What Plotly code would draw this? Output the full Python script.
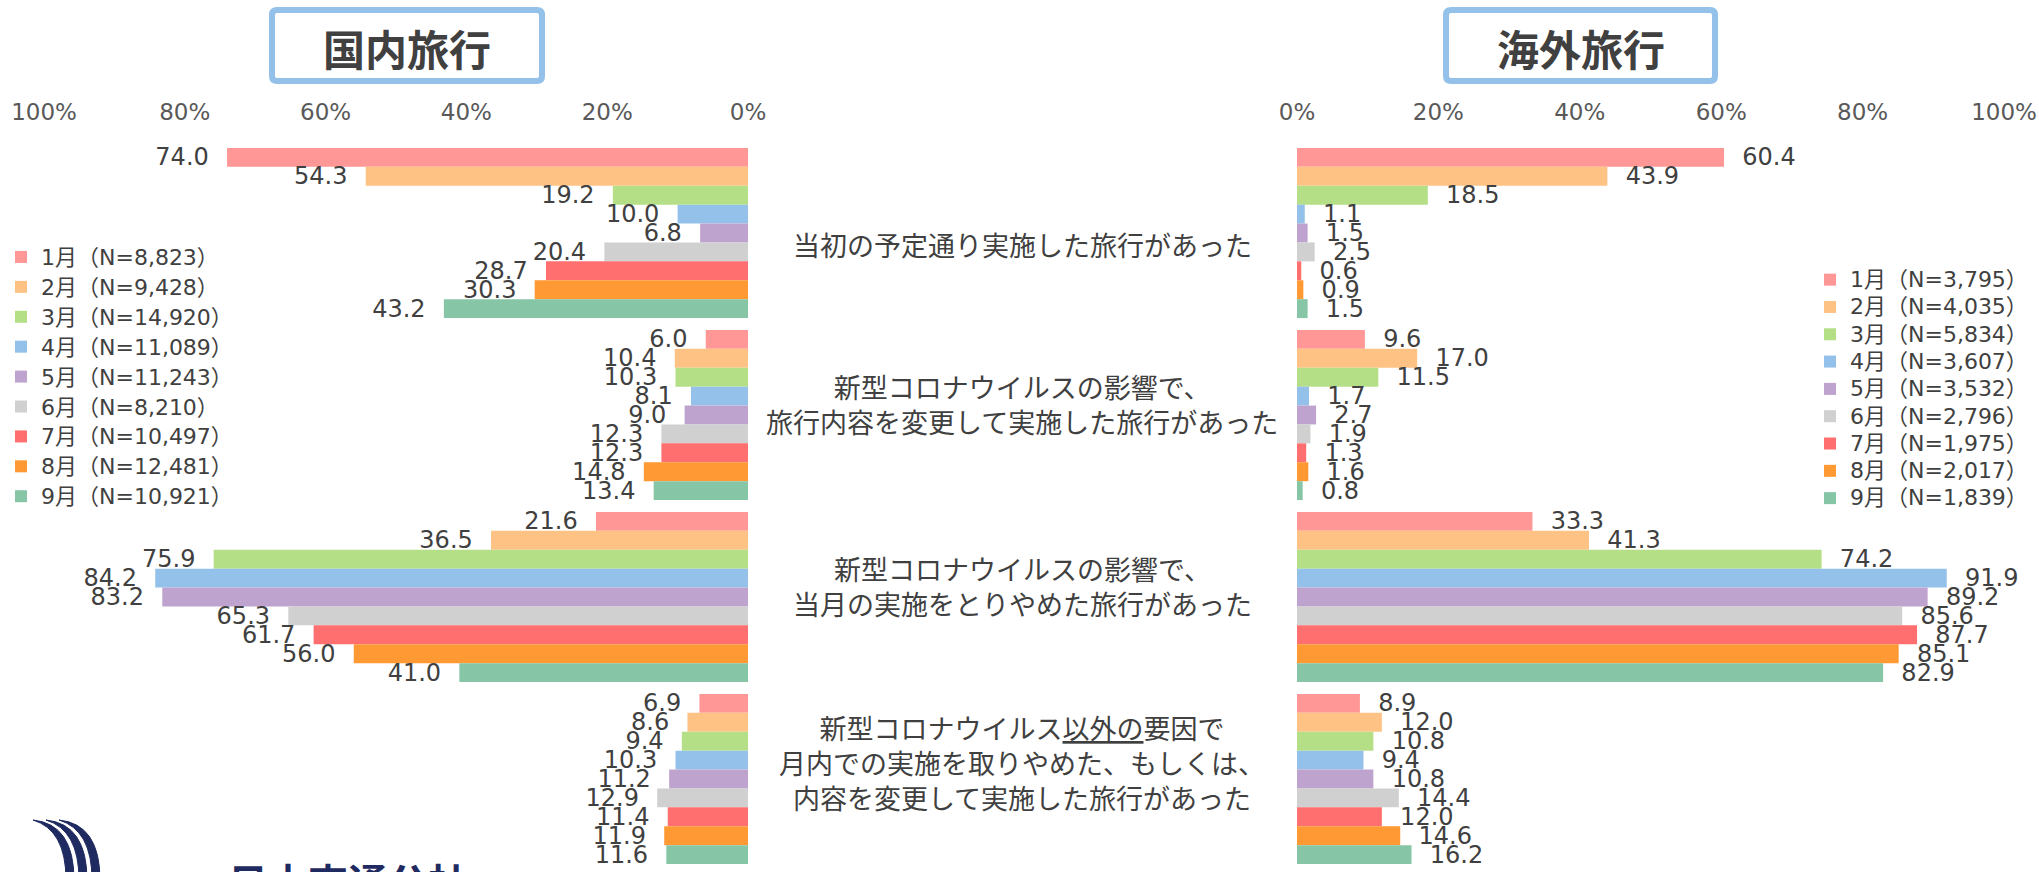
import plotly.graph_objects as go

W, H = 2039, 872

# ---------------- data ----------------
months = ["1月", "2月", "3月", "4月", "5月", "6月", "7月", "8月", "9月"]
dom_n = ["8,823", "9,428", "14,920", "11,089", "11,243", "8,210", "10,497", "12,481", "10,921"]
ovs_n = ["3,795", "4,035", "5,834", "3,607", "3,532", "2,796", "1,975", "2,017", "1,839"]

categories = [
    "当初の予定通り実施した旅行があった",
    "新型コロナウイルスの影響で、<br>旅行内容を変更して実施した旅行があった",
    "新型コロナウイルスの影響で、<br>当月の実施をとりやめた旅行があった",
    "新型コロナウイルス<u>以外の</u>要因で<br>月内での実施を取りやめた、もしくは、<br>内容を変更して実施した旅行があった",
]

# values by month (Jan..Sep) for each category
dom_planned = [74.0, 54.3, 19.2, 10.0, 6.8, 20.4, 28.7, 30.3, 43.2]
dom_changed = [6.0, 10.4, 10.3, 8.1, 9.0, 12.3, 12.3, 14.8, 13.4]
dom_cancelled = [21.6, 36.5, 75.9, 84.2, 83.2, 65.3, 61.7, 56.0, 41.0]
dom_other = [6.9, 8.6, 9.4, 10.3, 11.2, 12.9, 11.4, 11.9, 11.6]

ovs_planned = [60.4, 43.9, 18.5, 1.1, 1.5, 2.5, 0.6, 0.9, 1.5]
ovs_changed = [9.6, 17.0, 11.5, 1.7, 2.7, 1.9, 1.3, 1.6, 0.8]
ovs_cancelled = [33.3, 41.3, 74.2, 91.9, 89.2, 85.6, 87.7, 85.1, 82.9]
ovs_other = [8.9, 12.0, 10.8, 9.4, 10.8, 14.4, 12.0, 14.6, 16.2]

tick_vals = [0, 20, 40, 60, 80, 100]
tick_text = ["0%", "20%", "40%", "60%", "80%", "100%"]

titles = ["国内旅行", "海外旅行"]
logo_text = "日本交通公社"

# ---------------- style ----------------
colors = ["#FF9797", "#FFC285", "#B5DF86", "#93C1EA", "#BFA3CF",
          "#D0D0D0", "#FF6F6F", "#FF9933", "#86C6A6"]
TXT = "#404040"
LAT = "DejaVu Sans, Noto Sans CJK JP, sans-serif"
CJK = "Noto Sans CJK JP, sans-serif"
NB = "\u00a0"


def px(x):
    return x / W


def py(y):
    return 1 - y / H


def legend_name(m, n):
    return f'<span style="font-size:22px">{m}（N={n}）</span>'


dom_series = [dom_planned, dom_changed, dom_cancelled, dom_other]
ovs_series = [ovs_planned, ovs_changed, ovs_cancelled, ovs_other]

fig = go.Figure()

for i, m in enumerate(months):
    vals = [s[i] for s in dom_series]
    fig.add_trace(go.Bar(
        y=categories, x=vals, orientation="h",
        name=legend_name(m, dom_n[i]),
        marker=dict(color=colors[i], line=dict(width=0)),
        text=[f"{v:.1f}{NB}{NB}" for v in vals],
        textposition="outside", textangle=0, constraintext="none",
        cliponaxis=False,
        textfont=dict(family=LAT, size=24, color=TXT),
        xaxis="x", yaxis="y", legend="legend", hoverinfo="skip",
    ))

for i, m in enumerate(months):
    vals = [s[i] for s in ovs_series]
    fig.add_trace(go.Bar(
        y=categories, x=vals, orientation="h",
        name=legend_name(m, ovs_n[i]),
        marker=dict(color=colors[i], line=dict(width=0)),
        text=[f"{NB}{NB}{v:.1f}" for v in vals],
        textposition="outside", textangle=0, constraintext="none",
        cliponaxis=False,
        textfont=dict(family=LAT, size=24, color=TXT),
        xaxis="x2", yaxis="y", legend="legend2", hoverinfo="skip",
    ))

axis_common = dict(
    side="top", tickvals=tick_vals, ticktext=tick_text,
    showgrid=False, zeroline=False, showline=False,
    ticks="outside", ticklen=12, tickcolor="rgba(0,0,0,0)",
    tickfont=dict(family=LAT, size=23, color="#595959"),
    anchor="y", fixedrange=True, automargin=False,
)

fig.update_layout(
    width=W, height=H,
    margin=dict(l=0, r=0, t=0, b=0, autoexpand=False),
    paper_bgcolor="white", plot_bgcolor="white",
    barmode="group", bargap=0.065, bargroupgap=0,
    xaxis=dict(domain=[px(44), px(748)], range=[100, 0], **axis_common),
    xaxis2=dict(domain=[px(1297), px(2004)], range=[0, 100], **axis_common),
    yaxis=dict(domain=[py(870), py(142)], type="category",
               range=[3.5, -0.5], showticklabels=False, showgrid=False,
               zeroline=False, showline=False, anchor="x", fixedrange=True,
               automargin=False),
    showlegend=True,
    legend=dict(x=px(1), y=py(237), xanchor="left", yanchor="top",
                bgcolor="rgba(0,0,0,0)", traceorder="normal",
                font=dict(family=LAT, size=20.7, color=TXT), itemwidth=30),
    legend2=dict(x=px(1810), y=py(261), xanchor="left", yanchor="top",
                 bgcolor="rgba(0,0,0,0)", traceorder="normal",
                 font=dict(family=LAT, size=18.7, color=TXT), itemwidth=30),
)

# category labels in the centre
shifts = [-12, 11, 11, 17]
for cat, s in zip(categories, shifts):
    fig.add_annotation(
        x=px(1022), xref="paper", y=cat, yref="y", yshift=s,
        text=cat, showarrow=False, align="center",
        xanchor="center", yanchor="middle",
        font=dict(family=CJK, size=27, color=TXT),
    )


def rrect(x0, y0, x1, y1, r):
    return (f"M {px(x0 + r)},{py(y0)} L {px(x1 - r)},{py(y0)} "
            f"Q {px(x1)},{py(y0)} {px(x1)},{py(y0 + r)} "
            f"L {px(x1)},{py(y1 - r)} Q {px(x1)},{py(y1)} {px(x1 - r)},{py(y1)} "
            f"L {px(x0 + r)},{py(y1)} Q {px(x0)},{py(y1)} {px(x0)},{py(y1 - r)} "
            f"L {px(x0)},{py(y0 + r)} Q {px(x0)},{py(y0)} {px(x0 + r)},{py(y0)} Z")


boxes = [(272, 10, 542, 81), (1446, 10, 1715, 81)]
for (x0, y0, x1, y1), t in zip(boxes, titles):
    fig.add_shape(type="path", xref="paper", yref="paper",
                  path=rrect(x0, y0, x1, y1, 5),
                  line=dict(color="#93C1EA", width=6), fillcolor="white", layer="above")
    fig.add_annotation(x=px((x0 + x1) / 2), y=py(47), xref="paper", yref="paper",
                       text=f"<b>{t}</b>", showarrow=False,
                       xanchor="center", yanchor="middle",
                       font=dict(family=CJK, size=42, color=TXT))

# logo (partially cut at bottom)
NAVY = "#1F2A60"
for k in range(3):
    xs = 33 + 13 * k
    xe = 72 + 13 * k
    fig.add_shape(type="path", xref="paper", yref="paper",
                  path=(f"M {px(xs)},{py(820)} Q {px(xe + 2)},{py(824)} {px(xe + 2)},{py(880)} "
                        f"L {px(xe - 6)},{py(880)} Q {px(xe - 6)},{py(830)} {px(xs)},{py(820)} Z"),
                  line=dict(color=NAVY, width=1), fillcolor=NAVY, layer="above")
fig.add_annotation(x=px(348), y=py(881), xref="paper", yref="paper",
                   text=f"<b>{logo_text}</b>", showarrow=False,
                   xanchor="center", yanchor="middle",
                   font=dict(family=CJK, size=40, color=NAVY))

fig.write_html("out.html")
